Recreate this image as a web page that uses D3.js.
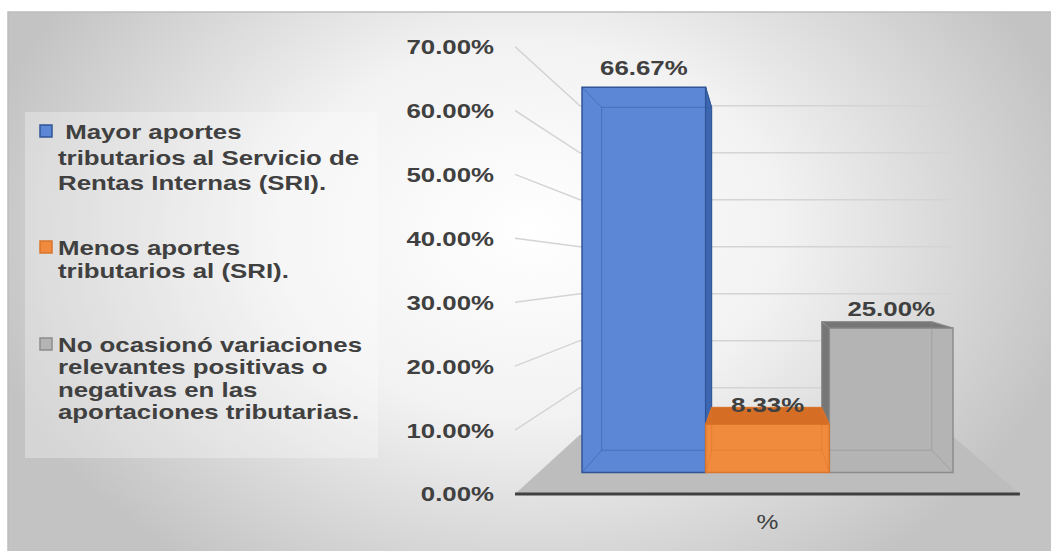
<!DOCTYPE html>
<html>
<head>
<meta charset="utf-8">
<script src="https://cdn.jsdelivr.net/npm/d3@7"></script>
<style>
body { margin: 0; background: #fff; }
text { font-family: "Liberation Sans", Arial, sans-serif; fill: #404040; white-space: pre; }
</style>
</head>
<body>
<div class="content"></div>
<script>
var categories = ["%"];
var seriesNames = [
    [" Mayor aportes", "tributarios al Servicio de", "Rentas Internas (SRI)."],
    ["Menos aportes", "tributarios al (SRI)."],
    ["No ocasionó variaciones", "relevantes positivas o", "negativas en las", "aportaciones tributarias."]
];
var seriesValues = [66.67, 8.33, 25.00];
var seriesColors = ["#5b87d6", "#f08a3c", "#b4b4b4"];
var sideColors = ["#3d66b1", "#d66d24", "#767676"];
var edgeColors = ["#2f5597", "#d9742c", "#8c8c8c"];
var yTicks = [0, 10, 20, 30, 40, 50, 60, 70];

var size = {width: 1051, height: 551};
// perspective: vanishing point and depth factors (1 = front of the bars)
var vp = {x: 760, y: 270};
var depth = {floor: 1.106, front: 1, back: 0.89, wall: 0.813};
var stretch = 1.23;   // the source text is drawn horizontally stretched

var fmtTick = d3.format(".2f");

var chart = d3.select('.content')
    .append('svg')
    .attr('width', size.width)
    .attr('height', size.height);

var grad = chart.append('defs').append('radialGradient')
    .attr('id', 'bg')
    .attr('gradientUnits', 'userSpaceOnUse')
    .attr('cx', 530).attr('cy', 230).attr('r', 560)
    .attr('gradientTransform', 'translate(530,230) scale(1,0.75) translate(-530,-230)');
grad.append('stop').attr('offset', 0).attr('stop-color', '#ffffff');
grad.append('stop').attr('offset', 0.45).attr('stop-color', '#f2f2f2');
grad.append('stop').attr('offset', 1).attr('stop-color', '#c3c3c3');

chart.append('rect')
    .attr('x', 8).attr('y', 12)
    .attr('width', size.width).attr('height', size.height)
    .attr('fill', 'url(#bg)')
    .attr('stroke', '#bdbdbd')
    .attr('stroke-width', 1.5);

// scales in the front plane of the bars
var yScale = d3.scaleLinear().domain([0, 70]).range([472.5, 68]);
var xScale = d3.scaleBand().domain(d3.range(seriesValues.length)).range([582, 953]);
var floorX = [538.5, 995];
var catX = d3.scalePoint().domain(categories).range([582, 953]).align(0.5).padding(0.5);

function project(x, y, s) {
    return [vp.x + (x - vp.x) * s, vp.y + (y - vp.y) * s];
}

function stretchedText(sel, x, y) {
    return sel.append('text')
        .attr('transform', 'translate(' + x + ',' + y + ') scale(' + stretch + ',1)');
}

// floor
var y0 = yScale(0);
chart.append('polygon')
    .attr('points', [
        project(floorX[0], y0, depth.floor), project(floorX[1], y0, depth.floor),
        project(floorX[1], y0, depth.wall), project(floorX[0], y0, depth.wall)
    ].join(' '))
    .attr('fill', '#bdbdbd');

// gridlines: side wall then back wall
chart.append('g').selectAll('path')
    .data(yTicks.filter(function(d) { return d > 0; }))
    .enter().append('path')
    .attr('d', function(d) {
        var a = project(floorX[0], yScale(d), depth.floor),
            b = project(floorX[0], yScale(d), depth.wall),
            c = project(floorX[1], yScale(d), depth.wall);
        return 'M' + a + 'L' + b + 'L' + c;
    })
    .attr('fill', 'none')
    .attr('stroke', '#d4d4d4')
    .attr('stroke-width', 1.5);

// axis line along the front of the floor
var ax0 = project(floorX[0], y0, depth.floor), ax1 = project(floorX[1], y0, depth.floor);
chart.append('line')
    .attr('x1', ax0[0]).attr('y1', ax0[1]).attr('x2', ax1[0]).attr('y2', ax1[1])
    .attr('stroke', '#404040').attr('stroke-width', 3);

// y tick labels
yTicks.forEach(function(d) {
    var p = project(floorX[0], yScale(d), depth.floor);
    stretchedText(chart, p[0] - 21, p[1] + 7.5)
        .attr('text-anchor', 'end')
        .style('font-size', '21px')
        .style('font-weight', 'bold')
        .text(fmtTick(d) + '%');
});

// bars, middle one last so it sits in front of the others' side faces
var order = [0, 2, 1];
var bars = chart.append('g');
order.forEach(function(i) {
    var v = seriesValues[i];
    var x0 = xScale(i), x1 = x0 + xScale.bandwidth();
    var yt = yScale(v), yb = yScale(0);
    var fTL = [x0, yt], fTR = [x1, yt], fBR = [x1, yb], fBL = [x0, yb];
    var bTL = project(x0, yt, depth.back), bTR = project(x1, yt, depth.back),
        bBR = project(x1, yb, depth.back), bBL = project(x0, yb, depth.back);
    var g = bars.append('g');

    g.append('polygon').attr('points', [fTL, fTR, fBR, fBL].join(' '))
        .attr('fill', seriesColors[i]).attr('stroke', edgeColors[i]).attr('stroke-width', 1.5);
    if (vp.x > x1) {
        g.append('polygon').attr('points', [fTR, bTR, bBR, fBR].join(' '))
            .attr('fill', sideColors[i]).attr('stroke', edgeColors[i]).attr('stroke-width', 1);
    }
    if (vp.x < x0) {
        g.append('polygon').attr('points', [fTL, bTL, bBL, fBL].join(' '))
            .attr('fill', sideColors[i]).attr('stroke', edgeColors[i]).attr('stroke-width', 1);
    }
    if (yt > vp.y) {
        g.append('polygon').attr('points', [fTL, fTR, bTR, bTL].join(' '))
            .attr('fill', sideColors[i]).attr('stroke', edgeColors[i]).attr('stroke-width', 1);
    }
    // hidden back edges seen through the glassy bar
    g.append('path')
        .attr('d', 'M' + bTL + 'L' + bTR + 'L' + bBR + 'L' + bBL + 'Z' +
                   'M' + fTL + 'L' + bTL + 'M' + fTR + 'L' + bTR +
                   'M' + fBR + 'L' + bBR + 'M' + fBL + 'L' + bBL)
        .attr('fill', 'none')
        .attr('stroke', edgeColors[i])
        .attr('stroke-opacity', 0.45)
        .attr('stroke-width', 1);
});

// data labels
seriesValues.forEach(function(v, i) {
    var cx = xScale(i) + xScale.bandwidth() / 2;
    stretchedText(chart, cx, yScale(v) - 12.5)
        .attr('text-anchor', 'middle')
        .style('font-size', '21px')
        .style('font-weight', 'bold')
        .text(fmtTick(v) + '%');
});

// category label
categories.forEach(function(c) {
    stretchedText(chart, catX(c), 529)
        .attr('text-anchor', 'middle')
        .style('font-size', '20px')
        .text(c);
});

// legend
chart.append('rect')
    .attr('x', 25).attr('y', 112).attr('width', 353).attr('height', 346)
    .attr('fill', '#ffffff').attr('fill-opacity', 0.3);
var legendTop = [139, 255, 352];
var legendStep = [25.5, 23, 22.3];
seriesNames.forEach(function(lines, i) {
    chart.append('rect')
        .attr('x', 40).attr('y', legendTop[i] - 14)
        .attr('width', 12).attr('height', 12)
        .attr('fill', seriesColors[i])
        .attr('stroke', edgeColors[i]).attr('stroke-width', 1.5);
    lines.forEach(function(t, j) {
        stretchedText(chart, 58, legendTop[i] + j * legendStep[i])
            .style('font-size', '21px')
            .style('font-weight', 'bold')
            .text(t);
    });
});
</script>
</body>
</html>
